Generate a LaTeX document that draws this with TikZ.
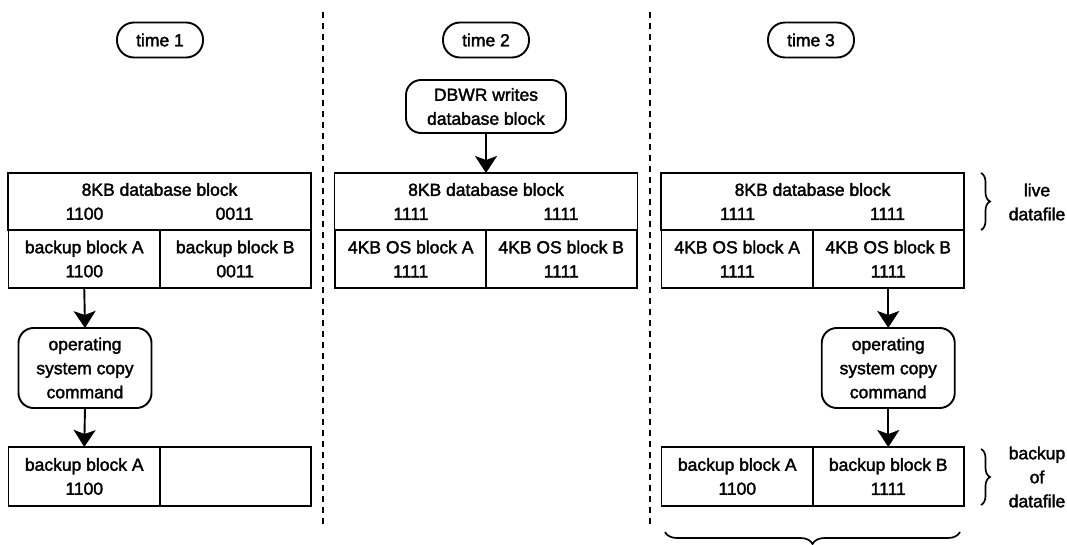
\documentclass[tikz,border=0pt]{standalone}
\usepackage{fontspec}
\setmainfont[FakeBold=2]{Liberation Sans}
\usetikzlibrary{arrows.meta,decorations.pathreplacing}
\begin{document}
\begin{tikzpicture}[x=1pt,y=-1pt,
  every node/.style={font=\fontsize{17.5}{24}\selectfont, inner sep=0pt, outer sep=0pt},
  topcell/.style={draw, line width=1.9pt, minimum width=303pt, minimum height=57pt, align=center},
  halfcell/.style={draw, line width=1.9pt, minimum width=151.5pt, minimum height=58pt, align=center},
  pill/.style={draw, line width=1.9pt, rounded corners=17pt, minimum width=86pt, minimum height=35pt},
  cmd/.style={draw, line width=1.9pt, rounded corners=15pt, align=center},
  arr/.style={line width=1.9pt, -{Stealth[length=17pt,width=22pt,inset=4pt]}},
  sep/.style={line width=1.7pt, dash pattern=on 6pt off 5pt},
  brc/.style={line width=1.7pt, decorate, decoration={brace, amplitude=#1}},
  side/.style={align=center}]
\useasboundingbox (0,0) rectangle (1067,545);

% column 1
\node[pill] (t1) at (160,40) {time 1};
\node[topcell] (c1top) at (159.5,201.5) {8KB database block\\\makebox[150pt]{1100}\makebox[150pt]{0011}};
\node[halfcell] (c1a) at (84.25,259) {backup block A\\1100};
\node[halfcell] (c1b) at (235.25,259) {backup block B\\0011};
\node[cmd, minimum width=133pt, minimum height=80pt] (p1) at (85,368) {operating\\system copy\\command};
\node[halfcell, minimum height=59pt] (k1a) at (84.25,476.5) {backup block A\\1100};
\node[halfcell, minimum height=59pt] (k1b) at (235.25,476.5) {};
\draw[arr] (c1a.south) -- (p1.north);
\draw[arr] (p1.south) -- (k1a.north);

% separator 1
\coordinate (s1a) at (323,12);
\coordinate (s1b) at (323,528);
\draw[sep] (s1a) -- (s1b);

% column 2
\node[pill] (t2) at (486,40) {time 2};
\node[cmd, minimum width=160pt, minimum height=53pt] (dbwr) at (486,106.5) {DBWR writes\\database block};
\node[topcell] (c2top) at (486,201.5) {8KB database block\\\makebox[150pt]{1111}\makebox[150pt]{1111}};
\node[halfcell] (c2a) at (410.75,259) {4KB OS block A\\1111};
\node[halfcell] (c2b) at (561.25,259) {4KB OS block B\\1111};
\draw[arr] (dbwr.south) -- (c2top.north);

% separator 2
\coordinate (s2a) at (650,12);
\coordinate (s2b) at (650,528);
\draw[sep] (s2a) -- (s2b);

% column 3
\node[pill] (t3) at (811,40) {time 3};
\node[topcell] (c3top) at (812.5,201.5) {8KB database block\\\makebox[150pt]{1111}\makebox[150pt]{1111}};
\node[halfcell] (c3a) at (737.25,259) {4KB OS block A\\1111};
\node[halfcell] (c3b) at (888.25,259) {4KB OS block B\\1111};
\node[cmd, minimum width=133pt, minimum height=80pt] (p3) at (888.25,368) {operating\\system copy\\command};
\node[halfcell, minimum height=59pt] (k3a) at (737.25,476.5) {backup block A\\1100};
\node[halfcell, minimum height=59pt] (k3b) at (888.25,476.5) {backup block B\\1111};
\draw[arr] (c3b.south) -- (p3.north);
\draw[arr] (p3.south) -- (k3b.north);

% braces and labels
\coordinate (b1a) at (981,173);
\coordinate (b1b) at (981,230);
\draw[brc=9pt] (b1a) -- (b1b);
\node[side] (live) at (1037,202) {live\\datafile};
\coordinate (b2a) at (981,449);
\coordinate (b2b) at (981,505);
\draw[brc=9pt] (b2a) -- (b2b);
\node[side] (bk) at (1037,477) {backup\\of\\datafile};
\coordinate (b3a) at (960,532);
\coordinate (b3b) at (665,532);
\draw[brc=12pt] (b3a) -- (b3b);
\end{tikzpicture}
\end{document}
